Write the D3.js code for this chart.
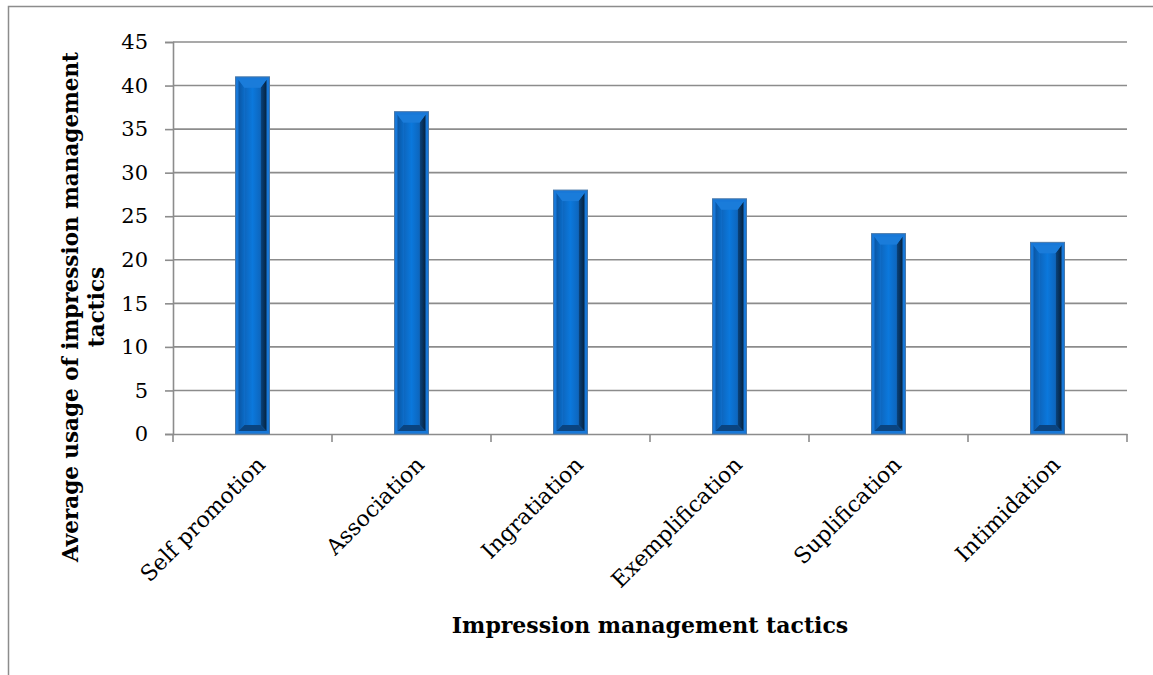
<!DOCTYPE html>
<html><head><meta charset="utf-8">
<script src="https://cdn.jsdelivr.net/npm/d3@7/dist/d3.min.js"></script>
<style>body{margin:0;background:#fff}svg{display:block}</style>
</head><body>
<script>
const categories = ["Self promotion","Association","Ingratiation","Exemplification","Suplification","Intimidation"];
const values = [41,37,28,27,23,22];
const yTicks = [0,5,10,15,20,25,30,35,40,45];
const xTitle = "Impression management tactics";
const yTitleLines = ["Average usage of impression management","tactics"];

const W=1153,H=675;
const svg=d3.select("body").append("svg").attr("width",W).attr("height",H);
const font="'DejaVu Serif', serif";

svg.append("path").attr("d",`M8.5,${H} L8.5,6.5 L${W},6.5`).attr("fill","none").attr("stroke","#8c8c8c").attr("stroke-width",1.5);

const m={l:173,r:1127,t:42,b:434};
const x=d3.scaleBand().domain(categories).range([m.l,m.r]);
const y=d3.scaleLinear().domain([0,45]).range([m.b,m.t]);

svg.append("g").selectAll("line").data(yTicks.filter(d=>d>0)).join("line")
 .attr("x1",m.l).attr("x2",m.r).attr("y1",d=>y(d)).attr("y2",d=>y(d))
 .attr("stroke","#8c8c8c").attr("stroke-width",1.6);

const ya=svg.append("g").attr("transform",`translate(${m.l},0)`)
 .call(d3.axisLeft(y).tickValues(yTicks).tickSize(8).tickPadding(17));
ya.select(".domain").attr("stroke","#8c8c8c").attr("stroke-width",1.6);
ya.selectAll(".tick line").attr("stroke","#8c8c8c").attr("stroke-width",1.6);
ya.selectAll("text").attr("font-family",font).attr("font-size",21).attr("fill","#000");

const xa=svg.append("g").attr("transform",`translate(0,${m.b})`)
 .call(d3.axisBottom(x).tickSize(0).tickFormat(""));
xa.select(".domain").attr("stroke","#8c8c8c").attr("stroke-width",1.6);
const bounds=categories.map(c=>x(c)).concat([m.r]);
svg.append("g").selectAll("line").data(bounds).join("line")
 .attr("x1",d=>d).attr("x2",d=>d).attr("y1",m.b).attr("y2",m.b+8)
 .attr("stroke","#8c8c8c").attr("stroke-width",1.6);

svg.append("g").selectAll("text").data(categories).join("text")
 .attr("transform",d=>`translate(${x(d)+x.bandwidth()/2+14},${m.b+32}) rotate(-45)`)
 .attr("text-anchor","end").attr("font-family",font).attr("font-size",22).attr("fill","#000")
 .text(d=>d);

const bw=34;
const defs=svg.append("defs");
const g1=defs.append("linearGradient").attr("id","face").attr("x1",0).attr("x2",1).attr("y1",0).attr("y2",0);
g1.append("stop").attr("offset","0%").attr("stop-color","#0d66be");
g1.append("stop").attr("offset","50%").attr("stop-color","#0b78dc");
g1.append("stop").attr("offset","100%").attr("stop-color","#0d66be");
const gl=defs.append("linearGradient").attr("id","lside").attr("x1",0).attr("x2",1);
gl.append("stop").attr("offset","0%").attr("stop-color","#0b56a4");
gl.append("stop").attr("offset","100%").attr("stop-color","#0a6cc8");
const gr=defs.append("linearGradient").attr("id","rside").attr("x1",0).attr("x2",1);
gr.append("stop").attr("offset","0%").attr("stop-color","#0a4580");
gr.append("stop").attr("offset","100%").attr("stop-color","#05223f");

const bars=svg.append("g").selectAll("g").data(categories.map((c,i)=>({c,v:values[i]}))).join("g");
bars.each(function(d){
  const g=d3.select(this);
  const x0=x(d.c)+x.bandwidth()/2-bw/2, x1=x0+bw, y0=y(d.v), y1=y(0);
  g.append("rect").attr("x",x0).attr("y",y0).attr("width",bw).attr("height",y1-y0)
   .attr("fill","#1878d8").attr("stroke","#4a78a8").attr("stroke-width",1);
  const a=3, b=9;
  const ix0=x0+a, ix1=x1-a, iy0=y0+a, iy1=y1-a;
  const fx0=x0+b, fx1=x1-b, fy0=y0+b+2, fy1=y1-b;
  g.append("path").attr("d",`M${ix0},${iy0}L${fx0},${fy0}L${fx0},${fy1}L${ix0},${iy1}Z`).attr("fill","url(#lside)");
  g.append("path").attr("d",`M${ix1},${iy0}L${fx1},${fy0}L${fx1},${fy1}L${ix1},${iy1}Z`).attr("fill","url(#rside)");
  g.append("path").attr("d",`M${ix0},${iy0}L${ix1},${iy0}L${fx1},${fy0}L${fx0},${fy0}Z`).attr("fill","#1a7cda");
  g.append("path").attr("d",`M${ix0},${iy1}L${ix1},${iy1}L${fx1},${fy1}L${fx0},${fy1}Z`).attr("fill","#0a4480");
  g.append("rect").attr("x",fx0).attr("y",fy0).attr("width",fx1-fx0).attr("height",fy1-fy0).attr("fill","url(#face)");
});

svg.append("text").attr("x",650).attr("y",633).attr("text-anchor","middle")
 .attr("font-family",font).attr("font-weight","bold").attr("font-size",22).attr("fill","#000").text(xTitle);

const yt=svg.append("text").attr("transform","translate(78,307) rotate(-90)")
 .attr("text-anchor","middle").attr("font-family",font).attr("font-weight","bold").attr("font-size",21.5).attr("fill","#000");
yTitleLines.forEach((t,i)=>yt.append("tspan").attr("x",0).attr("dy",i===0?0:26).text(t));
</script>
</body></html>
